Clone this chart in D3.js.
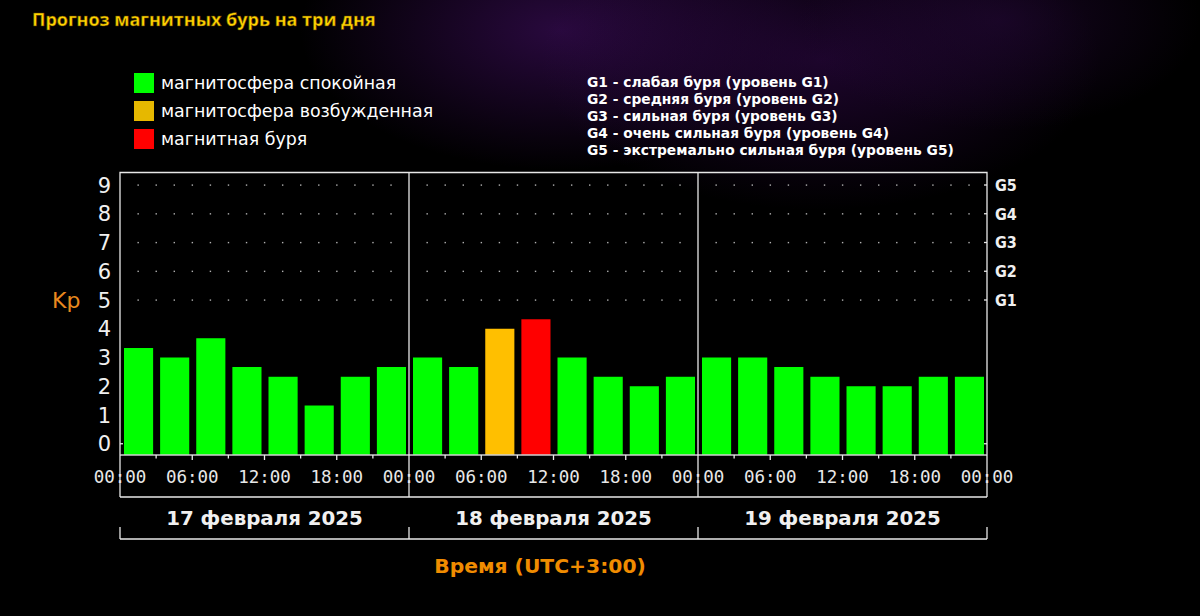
<!DOCTYPE html>
<html>
<head>
<meta charset="utf-8">
<script src="https://cdn.jsdelivr.net/npm/d3@7"></script>
<style>
  html, body { margin: 0; padding: 0; background: #000; }
  svg { display: block; }
</style>
</head>
<body>
<svg id="chart"></svg>
<script>
// data
const days = ["17 февраля 2025", "18 февраля 2025", "19 февраля 2025"];
const kp = [
    3.33, 3.0, 3.67, 2.67, 2.33, 1.33, 2.33, 2.67,
    3.0, 2.67, 4.0, 4.33, 3.0, 2.33, 2.0, 2.33,
    3.0, 3.0, 2.67, 2.33, 2.0, 2.0, 2.33, 2.33
];
const hourLabels = ["00:00", "06:00", "12:00", "18:00"];
const kpTicks = [0, 1, 2, 3, 4, 5, 6, 7, 8, 9];
const gLevels = [5, 6, 7, 8, 9];
const gLabels = ["G1", "G2", "G3", "G4", "G5"];
const legendItems = [
    {label: "магнитосфера спокойная", color: "#00ff00"},
    {label: "магнитосфера возбужденная", color: "#e6b800"},
    {label: "магнитная буря", color: "#ff0000"}
];
const gNotes = [
    "G1 - слабая буря (уровень G1)",
    "G2 - средняя буря (уровень G2)",
    "G3 - сильная буря (уровень G3)",
    "G4 - очень сильная буря (уровень G4)",
    "G5 - экстремально сильная буря (уровень G5)"
];

const width = 1200, height = 616;
const plotLeft = 120, plotRight = 987, plotTop = 172.5, base = 455;

const svg = d3.select("#chart").attr("width", width).attr("height", height);

// background glow
const defs = svg.append("defs");
const glows = [
    {id: "g1", cx: 560, cy: 30, rx: 260, ry: 140, c: "#4a1070", o: 0.55},
    {id: "g2", cx: 820, cy: 60, rx: 280, ry: 150, c: "#3a0a58", o: 0.5},
    {id: "g3", cx: 1000, cy: 20, rx: 200, ry: 110, c: "#2a0a40", o: 0.5}
];
glows.forEach(g => {
    const rg = defs.append("radialGradient").attr("id", g.id);
    rg.append("stop").attr("offset", "0%").attr("stop-color", g.c).attr("stop-opacity", g.o);
    rg.append("stop").attr("offset", "100%").attr("stop-color", g.c).attr("stop-opacity", 0);
});
svg.append("rect").attr("width", width).attr("height", height).attr("fill", "#000");
svg.selectAll("ellipse.glow").data(glows).enter().append("ellipse")
    .attr("cx", d => d.cx).attr("cy", d => d.cy)
    .attr("rx", d => d.rx).attr("ry", d => d.ry)
    .attr("fill", d => `url(#${d.id})`);

// title
svg.append("text")
    .attr("x", 32).attr("y", 26)
    .attr("font-family", "Open Sans").attr("font-weight", "bold").attr("font-size", 18)
    .attr("fill", "#ffd400")
    .attr("stroke", "#5a3a00").attr("stroke-width", 0.5)
    .text("Прогноз магнитных бурь на три дня");

// scales
const x = d3.scaleLinear().domain([0, 72]).range([plotLeft, plotRight]);
const y = d3.scaleLinear().domain([0, 9]).range([443.75, 185]);

// legend left
const leg = svg.append("g");
leg.selectAll("rect").data(legendItems).enter().append("rect")
    .attr("x", 134).attr("y", (d, i) => 73 + i * 28)
    .attr("width", 20).attr("height", 20)
    .attr("fill", d => d.color);
leg.selectAll("text").data(legendItems).enter().append("text")
    .attr("x", 161).attr("y", (d, i) => 83 + i * 28)
    .attr("dy", "0.35em")
    .attr("font-family", "DejaVu Sans").attr("font-size", 17.4)
    .attr("fill", "#fff")
    .text(d => d.label);

// legend right
svg.append("g").selectAll("text").data(gNotes).enter().append("text")
    .attr("x", 587).attr("y", (d, i) => 82 + i * 17)
    .attr("dy", "0.35em")
    .attr("font-family", "DejaVu Sans").attr("font-weight", "bold").attr("font-size", 13.8)
    .attr("fill", "#fff")
    .text(d => d);

// dot grid
const dotTimes = d3.range(1.5, 72, 1.5).filter(t => t % 24 !== 0);
const dots = svg.append("g").attr("fill", "#b0b0b0");
gLevels.forEach(lv => {
    dots.selectAll(null).data(dotTimes).enter().append("rect")
        .attr("x", t => x(t) - 0.6).attr("y", y(lv) - 0.6)
        .attr("width", 1.4).attr("height", 1.4);
});

// bars
const slot = (plotRight - plotLeft) / kp.length;
function barColor(v) {
    if (v >= 4.33) return "#ff0000";
    if (v >= 4) return "#ffbf00";
    return "#00ff00";
}
svg.append("g").selectAll("rect").data(kp).enter().append("rect")
    .attr("x", (d, i) => x(i * 3) + 4)
    .attr("width", slot - 7)
    .attr("y", d => y(d))
    .attr("height", d => base - y(d))
    .attr("fill", d => barColor(d));

// frame
const line = svg.append("g").attr("stroke", "#e8e8e8").attr("stroke-width", 1.3).attr("fill", "none");
line.append("path").attr("d", `M${plotLeft},${base}V${plotTop}H${plotRight}V${base}`);
line.append("line").attr("x1", plotLeft).attr("x2", plotRight).attr("y1", base).attr("y2", base).attr("stroke", "#cfcfcf");

// day dividers + bracket verticals
[24, 48].forEach(h => {
    line.append("line").attr("x1", x(h)).attr("x2", x(h)).attr("y1", plotTop).attr("y2", base);
});
[0, 24, 48, 72].forEach(h => {
    line.append("line").attr("x1", x(h)).attr("x2", x(h)).attr("y1", base).attr("y2", 497);
    line.append("line").attr("x1", x(h)).attr("x2", x(h)).attr("y1", 527).attr("y2", 539);
});
line.append("line").attr("x1", plotLeft).attr("x2", plotRight).attr("y1", 497).attr("y2", 497);
line.append("line").attr("x1", plotLeft).attr("x2", plotRight).attr("y1", 539).attr("y2", 539);

// x ticks
const minorTicks = d3.range(3, 72, 3).filter(t => t % 24 !== 0);
line.selectAll(null).data(minorTicks).enter().append("line")
    .attr("x1", t => x(t)).attr("x2", t => x(t))
    .attr("y1", base).attr("y2", t => base + (t % 6 === 0 ? 5 : 3.5));

// y ticks (0 on both sides, G levels on right)
line.append("line").attr("x1", plotLeft).attr("x2", plotLeft + 3).attr("y1", y(0)).attr("y2", y(0));
line.selectAll(null).data([0].concat(gLevels)).enter().append("line")
    .attr("x1", plotRight - 3).attr("x2", plotRight).attr("y1", d => y(d)).attr("y2", d => y(d));

// x tick labels
const xLabels = [];
for (let d = 0; d <= 3; d++) {
    hourLabels.forEach((lab, i) => {
        const h = d * 24 + i * 6;
        if (h <= 72 && (d < 3 || i === 0)) xLabels.push({h: h, lab: lab});
    });
}
svg.append("g").selectAll("text").data(xLabels).enter().append("text")
    .attr("x", d => x(d.h)).attr("y", 477).attr("dy", "0.35em")
    .attr("text-anchor", "middle")
    .attr("font-family", "DejaVu Sans Mono").attr("font-size", 17.5)
    .attr("fill", "#e8e8e8")
    .text(d => d.lab);

// date labels
svg.append("g").selectAll("text").data(days).enter().append("text")
    .attr("x", (d, i) => x(i * 24 + 12)).attr("y", 518).attr("dy", "0.35em")
    .attr("text-anchor", "middle")
    .attr("font-family", "DejaVu Sans").attr("font-weight", "bold").attr("font-size", 19.8)
    .attr("fill", "#f0f0f0")
    .text(d => d);

// y labels
svg.append("g").selectAll("text").data(kpTicks).enter().append("text")
    .attr("x", 111).attr("y", d => y(d)).attr("dy", "0.36em")
    .attr("text-anchor", "end")
    .attr("font-family", "DejaVu Sans").attr("font-size", 21)
    .attr("fill", "#f0f0f0")
    .text(d => d);

svg.append("text")
    .attr("x", 52).attr("y", 300).attr("dy", "0.35em")
    .attr("font-family", "DejaVu Sans").attr("font-size", 22)
    .attr("fill", "#e8891e")
    .text("Kp");

// G labels
svg.append("g").selectAll("text").data(gLevels).enter().append("text")
    .attr("x", 995).attr("y", d => y(d)).attr("dy", "0.36em")
    .attr("font-family", "DejaVu Sans Condensed").attr("font-weight", "bold").attr("font-size", 16)
    .attr("fill", "#f0f0f0")
    .text((d, i) => gLabels[i]);

// axis title
svg.append("text")
    .attr("x", 540).attr("y", 566).attr("dy", "0.35em")
    .attr("text-anchor", "middle")
    .attr("font-family", "DejaVu Sans").attr("font-weight", "bold").attr("font-size", 20.3)
    .attr("fill", "#f08c00")
    .text("Время (UTC+3:00)");
</script>
</body>
</html>
